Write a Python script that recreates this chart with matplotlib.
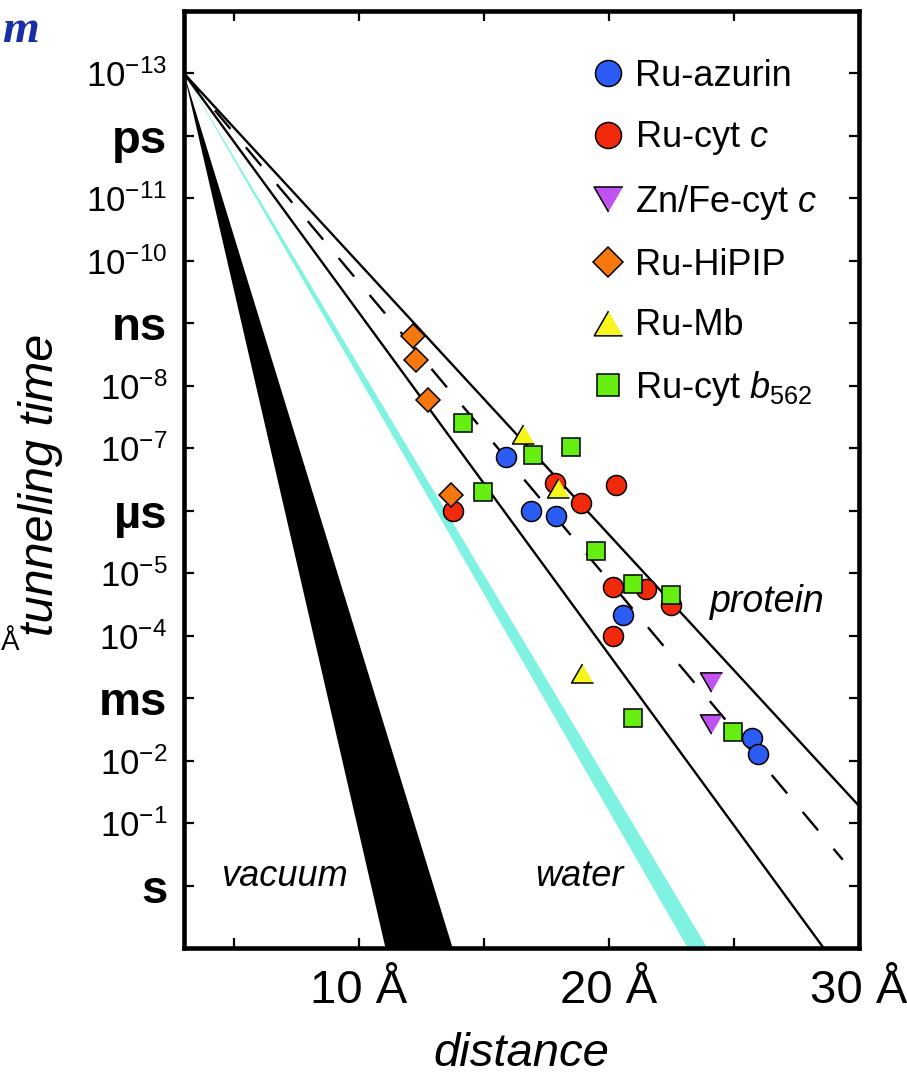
import numpy as np
import matplotlib
matplotlib.use("Agg")
import matplotlib.pyplot as plt
from matplotlib.ticker import FixedLocator, NullLocator

plt.rcParams['font.family'] = ['Liberation Sans', 'DejaVu Sans']
plt.rcParams['mathtext.fontset'] = 'custom'
plt.rcParams['mathtext.rm'] = 'Liberation Sans'
plt.rcParams['mathtext.it'] = 'Liberation Sans:italic'
plt.rcParams['mathtext.bf'] = 'Liberation Sans:bold'

# ---------------- data ----------------
# distances (Å) and tunneling times (s)
azurin_r = [15.87, 16.88, 17.87, 20.57, 25.71, 25.97]
azurin_t = [1.4e-7, 1.0e-6, 1.2e-6, 4.7e-5, 4.3e-3, 7.8e-3]

cytc_r = [13.77, 17.84, 18.87, 20.27, 20.17, 21.48, 22.47, 20.17]
cytc_t = [1.0e-6, 3.6e-7, 7.4e-7, 3.9e-7, 1.66e-5, 1.8e-5, 3.2e-5, 1.0e-4]

znfe_r = [24.08, 24.08]
znfe_t = [5.5e-4, 2.6e-3]

hipip_r = [12.17, 12.27, 12.77, 13.67]
hipip_t = [1.6e-9, 3.8e-9, 1.66e-8, 5.5e-7]

mb_r = [16.57, 17.95, 18.91]
mb_t = [6.0e-8, 4.3e-7, 4.0e-4]

b562_r = [14.15, 14.97, 16.97, 18.48, 19.47, 20.97, 22.47, 20.97, 24.97]
b562_t = [3.9e-8, 5.1e-7, 1.26e-7, 9.5e-8, 4.4e-6, 1.5e-5, 2.2e-5, 2.1e-3, 3.5e-3]

series_labels = ['Ru-azurin', 'Ru-cyt $c$', 'Zn/Fe-cyt $c$', 'Ru-HiPIP', 'Ru-Mb',
                 'Ru-cyt $b_{\\mathregular{562}}$']

# decay model: tau = tau0 * exp(beta * (r - r0))
r0 = 3.0
tau0 = 1e-13
vacuum_beta = (3.0, 4.0)
water_beta = (1.54, 1.60)
protein_beta = (1.0, 1.26)
protein_beta_mean = 1.1

ytick_vals = [1e-13, 1e-12, 1e-11, 1e-10, 1e-9, 1e-8, 1e-7, 1e-6, 1e-5, 1e-4, 1e-3, 1e-2, 1e-1, 1e0]
ytick_labels = ['$10^{-13}$', 'ps', '$10^{-11}$', '$10^{-10}$', 'ns', '$10^{-8}$', '$10^{-7}$',
                'µs', '$10^{-5}$', '$10^{-4}$', 'ms', '$10^{-2}$', '$10^{-1}$', 's']
unit_labels = {'ps', 'ns', 'µs', 'ms', 's'}
xtick_vals = [5, 10, 15, 20, 25, 30]
xtick_labels = ['', '10 Å', '', '20 Å', '', '30 Å']

# ---------------- figure ----------------
W, H = 907, 1078
fig = plt.figure(figsize=(W / 100, H / 100), dpi=100)
ax = fig.add_axes([184 / W, 1 - 948 / H, (859 - 184) / W, (948 - 11) / H])
ax.set_xlim(3, 30)
ax.set_yscale('log')
ax.set_ylim(1e1, 1e-14)


def tau(beta, r):
    return tau0 * np.exp(beta * (np.asarray(r) - r0))


r = np.linspace(r0, 30, 400)
ax.fill_between(r, tau(vacuum_beta[0], r), tau(vacuum_beta[1], r), color='black', lw=0, zorder=1)
ax.fill_between(r, tau(water_beta[0], r), tau(water_beta[1], r), color='#80f2e2', lw=0, zorder=1)
for b in protein_beta:
    ax.plot(r, tau(b, r), color='black', lw=1.7, zorder=2, solid_capstyle='butt')
rd = np.linspace(r0, 29.35, 400)
ax.plot(rd, tau(protein_beta_mean, rd), color='black', lw=1.7, dashes=(10.2, 10.2), zorder=2)

# markers
tri_up = [(0, 0.433), (-0.5, -0.433), (0.5, -0.433)]
tri_dn = [(0, -0.433), (-0.5, 0.433), (0.5, 0.433)]
mk = dict(ls='none', mec='black', mew=1.1)
h_cytc, = ax.plot(cytc_r, cytc_t, marker='o', ms=14.4, mfc='#f22a0c', zorder=3, **mk)
h_b562, = ax.plot(b562_r, b562_t, marker='s', ms=12.7, mfc='#66ee10', zorder=4, **mk)
h_hipip, = ax.plot(hipip_r, hipip_t, marker='D', ms=11.9, mfc='#f5780f', zorder=5, **mk)
h_mb, = ax.plot(mb_r, mb_t, marker=tri_up, ms=15.8, mfc='#f6f51e', zorder=6, **mk)
h_az, = ax.plot(azurin_r, azurin_t, marker='o', ms=14.4, mfc='#2d5cf4', zorder=7, **mk)
h_zn, = ax.plot(znfe_r, znfe_t, marker=tri_dn, ms=16, mfc='#c052f0', zorder=8, **mk)

# axes styling
for s in ax.spines.values():
    s.set_linewidth(3.3)
ax.xaxis.set_major_locator(FixedLocator(xtick_vals))
ax.set_xticklabels(xtick_labels, fontsize=34)
ax.xaxis.set_minor_locator(NullLocator())
ax.yaxis.set_major_locator(FixedLocator(ytick_vals))
ax.set_yticklabels(ytick_labels)
ax.yaxis.set_minor_locator(NullLocator())
for lbl in ax.get_yticklabels():
    if lbl.get_text() in unit_labels:
        lbl.set_fontweight('bold')
        lbl.set_fontsize(34)
    else:
        lbl.set_fontsize(25)
ax.tick_params(axis='both', which='major', direction='in', length=7, width=1.6,
               top=True, right=True)
ax.tick_params(axis='y', pad=12)
ax.tick_params(axis='x', pad=15)

# annotations
ax.text(4.5, 1e0, 'vacuum', fontsize=26, style='italic', ha='left', va='baseline')
ax.text(17.04, 1e0, 'water', fontsize=26, style='italic', ha='left', va='baseline')
ax.text(24.04, 10 ** -4.38, 'protein', fontsize=27, style='italic', ha='left', va='baseline')

# axis titles
fig.text(521.5 / W, 1 - 1066 / H, 'distance', fontsize=34, style='italic', ha='center', va='baseline')
fig.text(41 / W, 1 - 485 / H, 'tunneling time', fontsize=35, style='italic', rotation=90,
         ha='center', va='center')

# legend
leg = ax.legend([h_az, h_cytc, h_zn, h_hipip, h_mb, h_b562], series_labels,
                loc='upper left', bbox_to_anchor=(593.6 / W, 1 - 58.6 / H),
                bbox_transform=fig.transFigure, frameon=False, fontsize=26,
                borderpad=0, borderaxespad=0, handlelength=0.8, handletextpad=0.35,
                labelspacing=0.71, numpoints=1, markerscale=1.3)

# fragments at the image border (kept fully inside the canvas)
fig.text(2 / W, 1 - 42 / H, 'm', fontsize=34, family='Liberation Serif', weight='bold',
         style='italic', color='#1a2ea8', ha='left', va='baseline')
fig.text(1 / W, 1 - 650 / H, 'Å', fontsize=20, ha='left', va='baseline')

fig.savefig('out.png', dpi=100)
